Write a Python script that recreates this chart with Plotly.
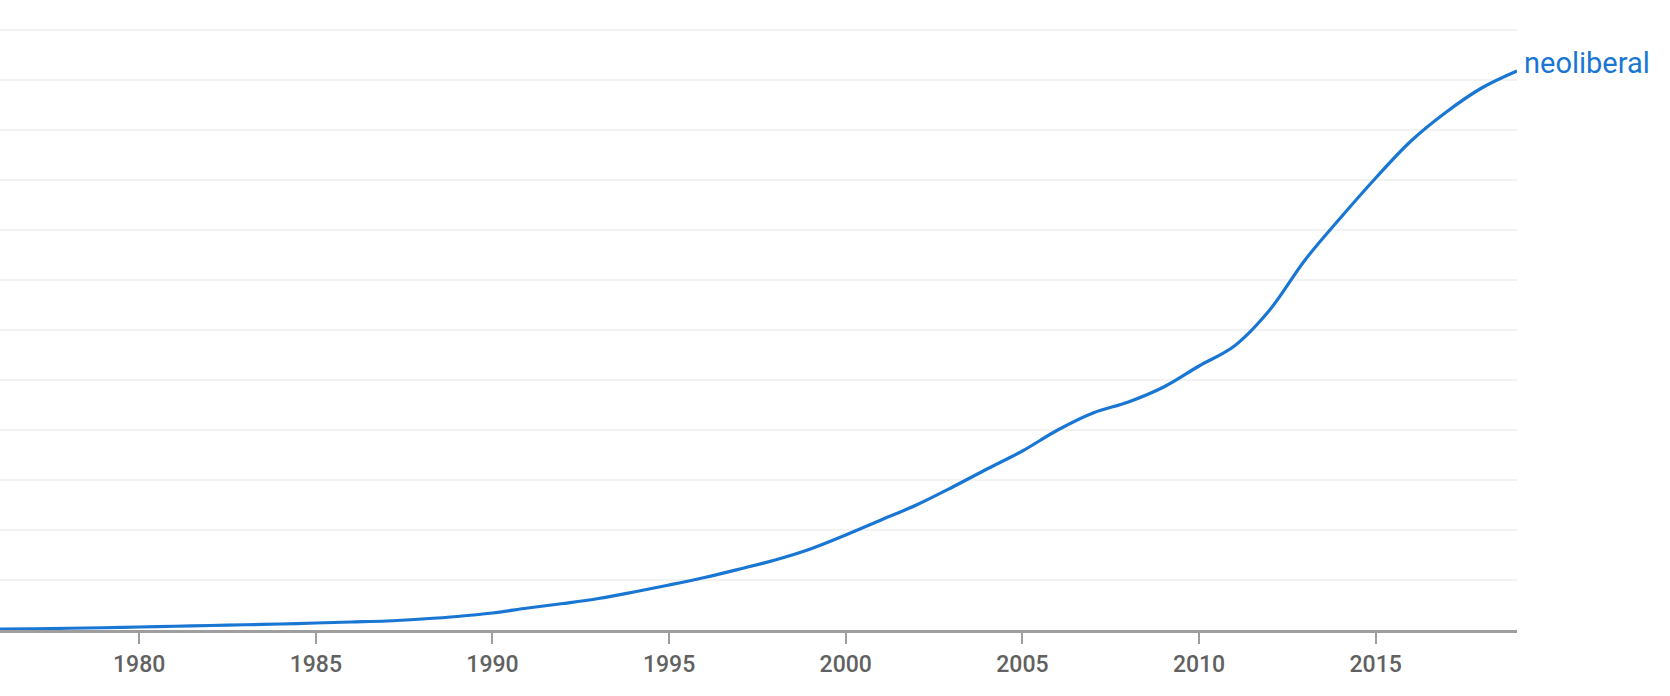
import plotly.graph_objects as go

years = list(range(1976, 2020))
neoliberal = [
    0.02, 0.025, 0.035, 0.045, 0.06, 0.075, 0.09, 0.105, 0.12, 0.14,
    0.16, 0.18, 0.22, 0.27, 0.34, 0.44, 0.53, 0.63, 0.76, 0.90,
    1.05, 1.22, 1.40, 1.62, 1.90, 2.20, 2.50, 2.85, 3.22, 3.58,
    4.00, 4.34, 4.56, 4.86, 5.28, 5.68, 6.40, 7.40, 8.24, 9.04,
    9.78, 10.36, 10.84, 11.18,
]
series_name = "neoliberal"
tick_years = [1980, 1985, 1990, 1995, 2000, 2005, 2010, 2015]

line_color = "#1976D2"

fig = go.Figure()
fig.add_trace(go.Scatter(
    x=years, y=neoliberal, mode="lines", name=series_name,
    line=dict(color=line_color, width=3.2, shape="spline", smoothing=1.0),
    showlegend=False, hoverinfo="x+y",
))

fig.add_annotation(
    x=years[-1], y=neoliberal[-1], text=series_name, showarrow=False,
    xanchor="left", yanchor="middle", xshift=5, yshift=8,
    font=dict(family="Roboto", size=29, color=line_color),
)

fig.update_layout(
    width=1670, height=696,
    margin=dict(l=0, r=153, t=0, b=66),
    paper_bgcolor="white", plot_bgcolor="white",
    xaxis=dict(
        range=[1976.06, 2019], tickvals=tick_years,
        ticktext=[str(t) for t in tick_years],
        showgrid=False, zeroline=False,
        showline=True, linecolor="#9e9e9e", linewidth=3,
        ticks="outside", ticklen=11, tickwidth=2, tickcolor="#9e9e9e",
        tickfont=dict(family="Roboto", size=23, color="#616161", weight=500),
    ),
    yaxis=dict(
        range=[0, 12.6], dtick=1, showticklabels=False,
        showgrid=True, gridcolor="#f2f2f2", gridwidth=1.5,
        zeroline=False, showline=False, ticks="",
    ),
)

fig.write_html(
    "out.html",
    config={"displayModeBar": False},
    post_script="document.body.style.margin='0';document.body.style.overflow='hidden';",
)
